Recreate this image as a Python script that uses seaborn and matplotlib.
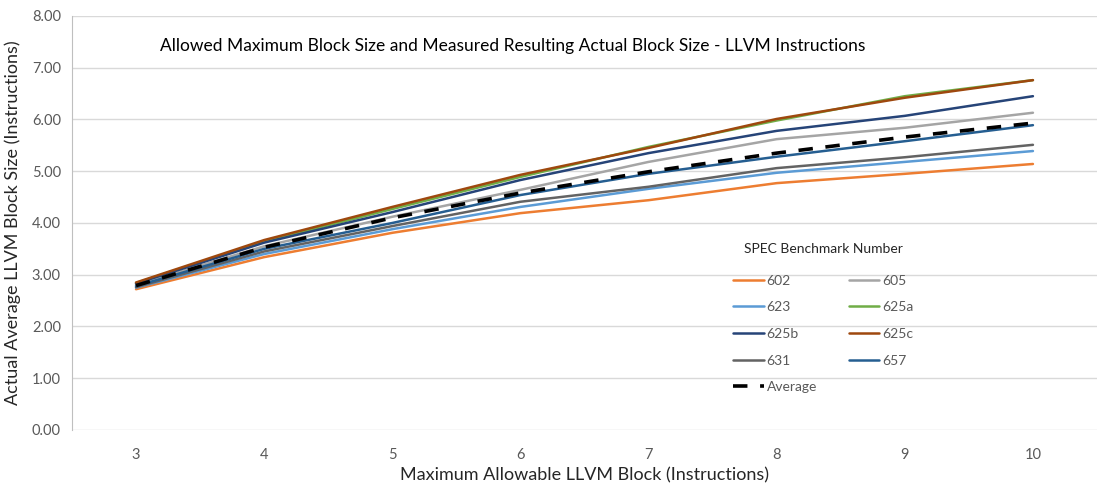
import matplotlib
matplotlib.use('Agg')
import matplotlib.pyplot as plt
import seaborn as sns
import pandas as pd

block_limit = [3, 4, 5, 6, 7, 8, 9, 10]

b602 = [2.72, 3.34, 3.81, 4.19, 4.44, 4.77, 4.95, 5.14]
b605 = [2.80, 3.55, 4.12, 4.64, 5.18, 5.62, 5.84, 6.13]
b623 = [2.75, 3.40, 3.88, 4.31, 4.66, 4.97, 5.18, 5.39]
b625a = [2.84, 3.64, 4.27, 4.89, 5.47, 5.98, 6.45, 6.76]
b625b = [2.83, 3.62, 4.21, 4.83, 5.35, 5.78, 6.07, 6.45]
b625c = [2.85, 3.67, 4.31, 4.93, 5.45, 6.01, 6.42, 6.76]
b631 = [2.76, 3.45, 3.94, 4.41, 4.70, 5.06, 5.27, 5.51]
b657 = [2.78, 3.50, 4.00, 4.54, 4.95, 5.28, 5.58, 5.89]
average = [2.79, 3.53, 4.10, 4.58, 4.99, 5.35, 5.66, 5.93]

names = ['602', '605', '623', '625a', '625b', '625c', '631', '657', 'Average']
values = [b602, b605, b623, b625a, b625b, b625c, b631, b657, average]
colors = ['#ED7D31', '#A5A5A5', '#5B9BD5', '#70AD47', '#264478',
          '#9E480E', '#636363', '#255E91', '#000000']

sns.set_style('white')
plt.rcParams['font.family'] = ['Lato', 'DejaVu Sans']

fig = plt.figure(figsize=(10.97, 4.84), dpi=100)
ax = fig.add_axes([0.0656, 0.1116, 0.9344, 0.8554])

# x axis is a category axis like Excel: positions 0..7
for name, vals, col in zip(names, values, colors):
    df = pd.DataFrame({'pos': range(len(block_limit)), 'val': vals})
    if name == 'Average':
        sns.lineplot(data=df, x='pos', y='val', ax=ax, color=col, lw=2.6,
                     label=name, zorder=5)
        ax.lines[-1].set_dashes([4, 3.5])
    else:
        sns.lineplot(data=df, x='pos', y='val', ax=ax, color=col, lw=1.8,
                     label=name)

ax.set_xlim(-0.5, len(block_limit) - 0.5)
ax.set_ylim(0, 8)
ax.set_xticks(range(len(block_limit)))
ax.set_xticklabels([str(b) for b in block_limit])
ax.set_yticks(range(0, 9))
ax.set_yticklabels(['%.2f' % v for v in range(0, 9)])
ax.tick_params(axis='y', length=0, labelsize=10.5, labelcolor='#595959', pad=8)
ax.tick_params(axis='x', length=0, labelsize=10.5, labelcolor='#595959', pad=13)
ax.grid(axis='y', color='#D9D9D9', lw=1)
for s in ['top', 'right', 'bottom']:
    ax.spines[s].set_visible(False)
ax.spines['left'].set_color('#BFBFBF')

ax.set_xlabel('Maximum Allowable LLVM Block (Instructions)', fontsize=13, color='#262626', labelpad=4)
ax.set_ylabel('Actual Average LLVM Block Size (Instructions)', fontsize=13, color='#262626', labelpad=8)
ax.text(0.43, 0.928, 'Allowed Maximum Block Size and Measured Resulting Actual Block Size - LLVM Instructions',
        transform=ax.transAxes, ha='center', va='center', fontsize=12.5, color='#000000')

h, l = ax.get_legend_handles_labels()
order = [0, 2, 4, 6, 8, 1, 3, 5, 7]
leg = ax.legend([h[i] for i in order], [l[i] for i in order], ncol=2,
                title='SPEC Benchmark Number', frameon=False, fontsize=10,
                title_fontsize=10, loc='center', bbox_to_anchor=(0.733, 0.27),
                handlelength=2.2, handletextpad=0.2, columnspacing=2.3,
                labelspacing=1.05, labelcolor='#595959')
leg.get_title().set_color('#262626')
leg._legend_box.sep = 14

fig.savefig('out.png', dpi=100)
